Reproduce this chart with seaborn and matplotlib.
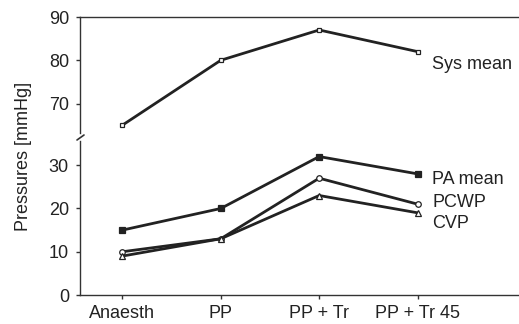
import pandas as pd
import seaborn as sns
import matplotlib.pyplot as plt
from matplotlib.lines import Line2D

# Data
stages = ["Anaesth", "PP", "PP + Tr", "PP + Tr 45"]
sys_mean = [65, 80, 87, 82]
pa_mean = [15, 20, 32, 28]
pcwp = [10, 13, 27, 21]
cvp = [9, 13, 23, 19]

LINE_COLOR = "#222222"
FONT = 13

sns.set_style("ticks")
plt.rcParams["font.family"] = ["Liberation Sans", "DejaVu Sans"]

W, H = 519, 324
fig = plt.figure(figsize=(W / 100, H / 100), dpi=100)

# axes positions in pixels (left, top, right, bottom)
def px_axes(l, t, r, b):
    return fig.add_axes([l / W, (H - b) / H, (r - l) / W, (b - t) / H])

ax_top = px_axes(80, 17, 519, 133)
ax_bot = px_axes(80, 141, 519, 295)

df = pd.DataFrame({
    "stage": stages * 4,
    "pos": list(range(4)) * 4,
    "value": sys_mean + pa_mean + pcwp + cvp,
    "series": ["Sys mean"] * 4 + ["PA mean"] * 4 + ["PCWP"] * 4 + ["CVP"] * 4,
})

styles = {
    "Sys mean": dict(marker="s", markersize=3.5, markerfacecolor="white"),
    "PA mean": dict(marker="s", markersize=4.5, markerfacecolor=LINE_COLOR),
    "PCWP": dict(marker="o", markersize=4, markerfacecolor="white"),
    "CVP": dict(marker="^", markersize=4, markerfacecolor="white"),
}

for name, st in styles.items():
    sub = df[df["series"] == name]
    ax = ax_top if name == "Sys mean" else ax_bot
    sns.lineplot(x="pos", y="value", data=sub, ax=ax, color=LINE_COLOR,
                 linewidth=2.0, markeredgecolor=LINE_COLOR, markeredgewidth=0.9,
                 sort=False, legend=False, **st)

# series labels at the right end (baseline positions)
label_y = {"Sys mean": 78.1, "PA mean": 25.75, "PCWP": 20.4, "CVP": 15.4}
for name, y in label_y.items():
    ax = ax_top if name == "Sys mean" else ax_bot
    ax.text(3.15, y, name, fontsize=FONT, va="baseline", ha="left", color="#222222")

xlim = (-0.43, 4.03)

ax_top.set_xlim(*xlim)
ax_top.set_ylim(63.2, 90)
ax_top.set_yticks([70, 80, 90])
ax_top.set_xticks([])
ax_top.spines["bottom"].set_visible(False)
ax_top.spines["right"].set_visible(False)
ax_top.spines["top"].set_visible(True)
ax_top.set_xlabel("")
ax_top.set_ylabel("")

ax_bot.set_xlim(*xlim)
ax_bot.set_ylim(0, 35.6)
ax_bot.set_yticks([0, 10, 20, 30])
ax_bot.set_xticks(range(4))
ax_bot.set_xticklabels(stages)
ax_bot.spines["top"].set_visible(False)
ax_bot.spines["right"].set_visible(False)
ax_bot.set_xlabel("")
ax_bot.set_ylabel("")

for ax in (ax_top, ax_bot):
    ax.set_facecolor("none")
    for sp in ax.spines.values():
        sp.set_color("#333333")
        sp.set_linewidth(1.0)
    ax.tick_params(axis="both", length=3, width=1.0, color="#333333",
                   labelsize=FONT, labelcolor="#222222")
    ax.tick_params(axis="y", pad=5)
    ax.tick_params(axis="x", pad=4)

# axis break slash
fig.add_artist(Line2D([77 / W, 84 / W], [(H - 140) / H, (H - 135) / H],
                      color="#333333", linewidth=1.2))

fig.text(24 / W, (H - 156) / H, "Pressures [mmHg]", rotation=90,
         ha="center", va="center", fontsize=FONT, color="#222222")

fig.savefig("out.png", dpi=100)
